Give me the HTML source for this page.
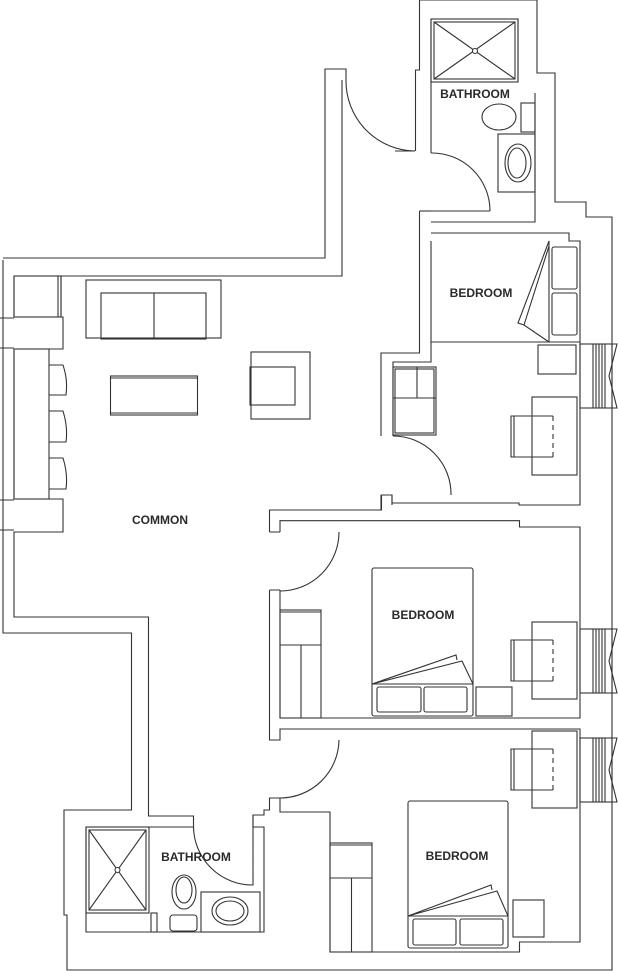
<!DOCTYPE html>
<html><head><meta charset="utf-8"><style>
html,body{margin:0;padding:0;background:#fff;}
svg{display:block}
text{font-family:"Liberation Sans",sans-serif;font-weight:bold;font-size:12px;fill:#2a2a2a;text-anchor:middle}
</style></head><body>
<svg width="618" height="971" viewBox="0 0 618 971" xmlns="http://www.w3.org/2000/svg">
<g fill="none" stroke="#333" stroke-width="1.1">
<!-- outer walls -->
<path d="M3,260 V633 H131.5 V810 H64 V915 H67 V970 H612 V217 H586 V202 H555 V73 H537 V0 H419.5 V70 H415.5 V151"/>
<path d="M3,258 H325 V69 H346 V80"/>
<path d="M419.5,211 V353 H381 V436"/>
<path d="M381,495 V510 H269.5 V532"/>
<path d="M269.5,590 V740 H280 V729 H580 V942 H519.5 V952 H330 V812 H280 V798 H269.5 V810 H264 V815 H253 V827"/>
<path d="M0,318 H14 M0,348 H14 M0,500 H14 M0,530 H14"/>
<!-- common inner -->
<path d="M342,80 V276 H14 V317 H63 V349 H14 V499 H63 V532 H14 V617 H148.5 V816 H193.5 V827"/>
<!-- top bathroom -->
<path d="M431,19 V153"/>
<path d="M518,19 V82 M535,93 V222 H431 M431,211 H490"/>
<path d="M419.5,211 H431"/>
<!-- bedroom 1 -->
<path d="M431,233 H569 V241 H580 V505 H519 V503 H392 V495"/>
<path d="M431,241 V362 H393 V436"/>
<!-- bedroom 2 -->
<path d="M280,532 V520.7 H519.5 V527 H580 V718 H280 V590"/>
<path d="M269.5,532 H280 M269.5,590 H280"/>
<path d="M269.5,510 H381.5 V495 H392 V505"/>
<!-- bottom bathroom -->
<path d="M86,827 H193.5 M253,827 H264 V932 H86 V827"/>
<!-- doors -->
<path d="M346,80 A70,70 0 0 0 415,151 M415,151 H395"/>
<path d="M431,153 A58,58 0 0 1 490,211"/>
<path d="M393,436 A58,58 0 0 1 451,495"/>
<path d="M339,532 A59,59 0 0 1 280,591"/>
<path d="M339,740 A59,59 0 0 1 280,798"/>
<path d="M193.5,827 A59,59 0 0 0 253,885 V815"/>
<!-- top bathroom fixtures -->
<rect x="431" y="19" width="87" height="63"/><rect x="434" y="22" width="81" height="57"/>
<path d="M434,22 L515,79 M515,22 L434,79"/><circle cx="475" cy="51" r="2.5" fill="#fff"/>
<ellipse cx="499" cy="117" rx="17" ry="13"/><rect x="521" y="103" width="14" height="29"/>
<rect x="498" y="134" width="37" height="58"/><ellipse cx="518" cy="163" rx="13" ry="19"/><ellipse cx="517" cy="163" rx="9" ry="15"/>
<!-- bedroom 1 furniture -->
<path d="M431,342 H580 M549,241 V342"/>
<rect x="552" y="247" width="25" height="42" rx="2"/><rect x="552" y="293" width="25" height="42" rx="2"/>
<path d="M549,241 L518,323 L524,325 L549,342 M549,246 L524,325"/>
<rect x="538" y="345" width="38" height="29"/>
<rect x="532" y="397" width="45" height="78"/>
<path d="M553,416 H511 V457 H553 M514,416 V457"/><path d="M553,416 V457" stroke-dasharray="5,4"/>
<rect x="393" y="367" width="43" height="68"/><path d="M417,367 V398 M393,398 H436"/><rect x="395" y="369" width="39" height="64"/>
<!-- common furniture -->
<rect x="14" y="276" width="47" height="41"/><path d="M58,276 V317 M61,276 V317"/>
<rect x="86" y="280" width="135" height="58"/><rect x="101" y="293" width="105" height="46"/><path d="M154,293 V339"/>
<rect x="110.5" y="376" width="87" height="39"/><path d="M110.5,378 H197.5 M110.5,413 H197.5"/>
<rect x="251" y="352" width="59" height="67"/><rect x="250" y="367" width="45" height="38"/>
<rect x="14" y="349" width="35" height="150"/>
<path d="M49,365 H63 Q68,380 66,395 H49 M49,411 H63 Q68,427 66,442 H49 M49,458 H63 Q68,474 66,489 H49"/>
<!-- bedroom 2 furniture -->
<rect x="372" y="568" width="101" height="148" rx="2"/><path d="M372,684 H473"/>
<rect x="377" y="687" width="44" height="25" rx="2"/><rect x="424" y="687" width="43" height="25" rx="2"/>
<path d="M372,684 L456,655 L457,660 M372,684 L462,661 L473,684"/>
<rect x="476" y="687" width="36" height="29"/>
<rect x="532" y="622" width="45" height="77"/>
<path d="M553,640 H511 V681 H553 M514,640 V681"/><path d="M553,640 V681" stroke-dasharray="5,4"/>
<rect x="280" y="610" width="41" height="108"/><path d="M280,612 H321 M280,645 H321 M301,645 V718"/>
<!-- bedroom 3 furniture -->
<rect x="532" y="731" width="45" height="77"/>
<path d="M553,749 H511 V790 H553 M514,749 V790"/><path d="M553,749 V790" stroke-dasharray="5,4"/>
<rect x="408" y="801" width="100" height="147" rx="2"/><path d="M408,916 H508"/>
<rect x="413" y="919" width="43" height="26" rx="2"/><rect x="460" y="919" width="43" height="26" rx="2"/>
<path d="M408,916 L491,885 L492,890 M408,916 L497,891 L508,916"/>
<rect x="513" y="900" width="31" height="37"/>
<rect x="330" y="843" width="42" height="109"/><path d="M330,845 H372 M330,878 H372 M351.5,878 V952"/>
<!-- bottom bathroom fixtures -->
<rect x="86" y="827" width="63" height="86"/><rect x="89" y="830" width="57" height="80"/>
<path d="M89,830 L146,910 M146,830 L89,910"/><circle cx="117.5" cy="870" r="2.5" fill="#fff"/>
<ellipse cx="184" cy="892" rx="12" ry="17"/><ellipse cx="184" cy="890" rx="8" ry="13"/>
<rect x="170" y="915" width="27" height="16" rx="3"/>
<rect x="151" y="913" width="6" height="19"/>
<rect x="201" y="892" width="59" height="40"/><ellipse cx="230" cy="911" rx="18" ry="14"/><ellipse cx="230" cy="911" rx="14" ry="10"/>
<!-- windows -->
<g id="w1">
<rect x="580" y="344" width="32" height="64"/>
<path d="M593,344 V408 M596,344 V408 M599,344 V408 M602,344 V408 M605,344 V408 M607,344 L617,344 L609,376 L617,408 L607,408"/>
</g>
<use href="#w1" y="285"/>
<use href="#w1" y="394"/>
</g>
<text x="475" y="98">BATHROOM</text>
<text x="481" y="297">BEDROOM</text>
<text x="160" y="524">COMMON</text>
<text x="423" y="619">BEDROOM</text>
<text x="196" y="861">BATHROOM</text>
<text x="457" y="860">BEDROOM</text>
</svg>
</body></html>
